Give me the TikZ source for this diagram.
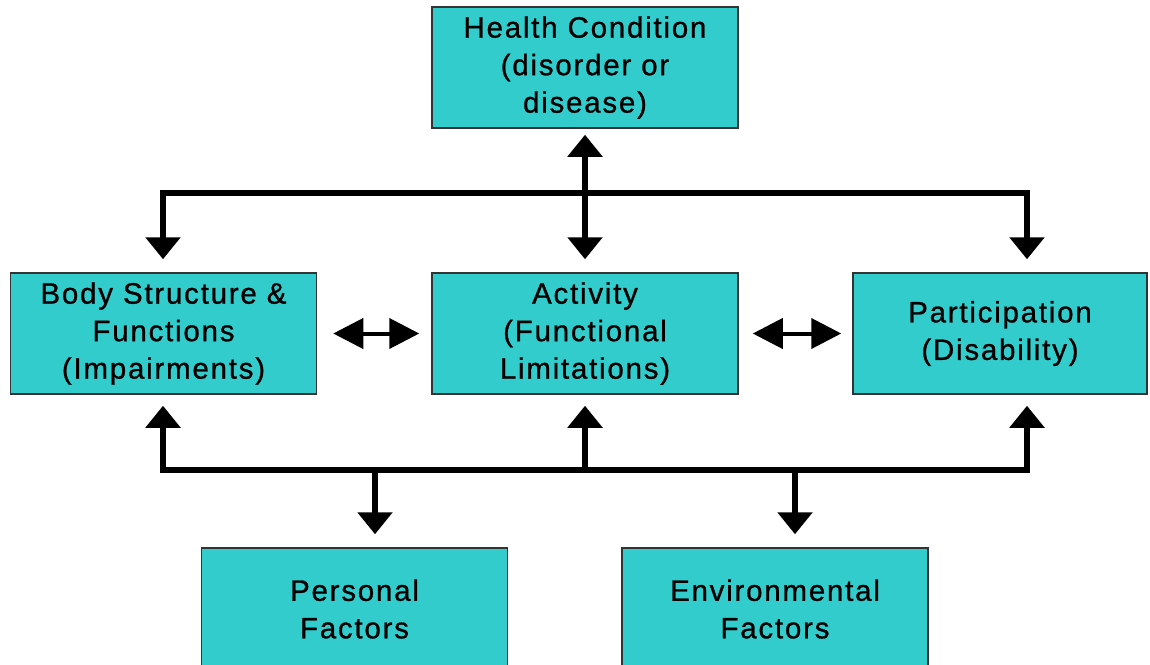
\documentclass[tikz,border=0pt]{standalone}
\usepackage{fontspec}
\setmainfont{Liberation Sans}
\newfontfamily\boxfont[LetterSpace=6,FakeBold=0.8]{Liberation Sans}
\usetikzlibrary{arrows.meta}
\definecolor{teal1}{HTML}{33CCCC}
\definecolor{edge1}{HTML}{333333}
\begin{document}
\begin{tikzpicture}[x=1pt,y=-1pt,
  box/.style={draw=edge1,line width=1.5pt,fill=teal1,align=center,inner sep=0pt,
    minimum width=306pt,minimum height=121pt,
    font=\boxfont\fontsize{29.5}{37.5}\selectfont},
  arr/.style={line width=6pt,-{Triangle[length=22pt,width=34pt]}},
  arrb/.style={line width=6pt,{Triangle[length=22pt,width=34pt]}-{Triangle[length=22pt,width=34pt]}},
  dbl/.style={line width=4pt,{Triangle[length=30pt,width=30pt]}-{Triangle[length=30pt,width=30pt]}}]
\useasboundingbox (0,0) rectangle (1150,664);
\clip (0,0) rectangle (1150,664);
\node[box] (hc) at (585,67.5) {Health Condition\\(disorder or\\disease)};
\node[box] (bsf) at (163.5,333.5) {Body Structure \&\\Functions\\(Impairments)};
\node[box] (act) at (585,333.5) {Activity\\(Functional\\Limitations)};
\node[box,minimum width=294pt] (par) at (1000,333.5) {Participation\\(Disability)};
\node[box,minimum height=122pt] (pf) at (354.5,609) {Personal\\Factors};
\node[box,minimum height=122pt] (ef) at (775,609) {Environmental\\Factors};
\coordinate (tl) at (163,193);
\coordinate (tr) at (1027,193);
\coordinate (bl) at (163,470);
\coordinate (br) at (1027,470);
\coordinate (pd) at (375,470);
\coordinate (ed) at (795,470);
% top distribution
\draw[arrb,shorten <=13pt,shorten >=13pt] (tl |- bsf.north) -- (tl) -- (tr) -- (tr |- par.north);
\draw[arrb,shorten <=6pt,shorten >=13pt] (hc.south) -- (act.north);
% bottom distribution
\draw[arrb,shorten <=11pt,shorten >=11pt] (bl |- bsf.south) -- (bl) -- (br) -- (br |- par.south);
\draw[arr,shorten >=11pt] (bl -| act.south) -- (act.south);
\draw[arr,shorten >=13pt] (pd) -- (pd |- pf.north);
\draw[arr,shorten >=13pt] (ed) -- (ed |- ef.north);
% horizontal double arrows
\draw[dbl,shorten <=16pt,shorten >=12pt] (bsf.east) -- (act.west);
\draw[dbl,shorten <=14pt,shorten >=11pt] (act.east) -- (par.west);
\end{tikzpicture}
\end{document}
